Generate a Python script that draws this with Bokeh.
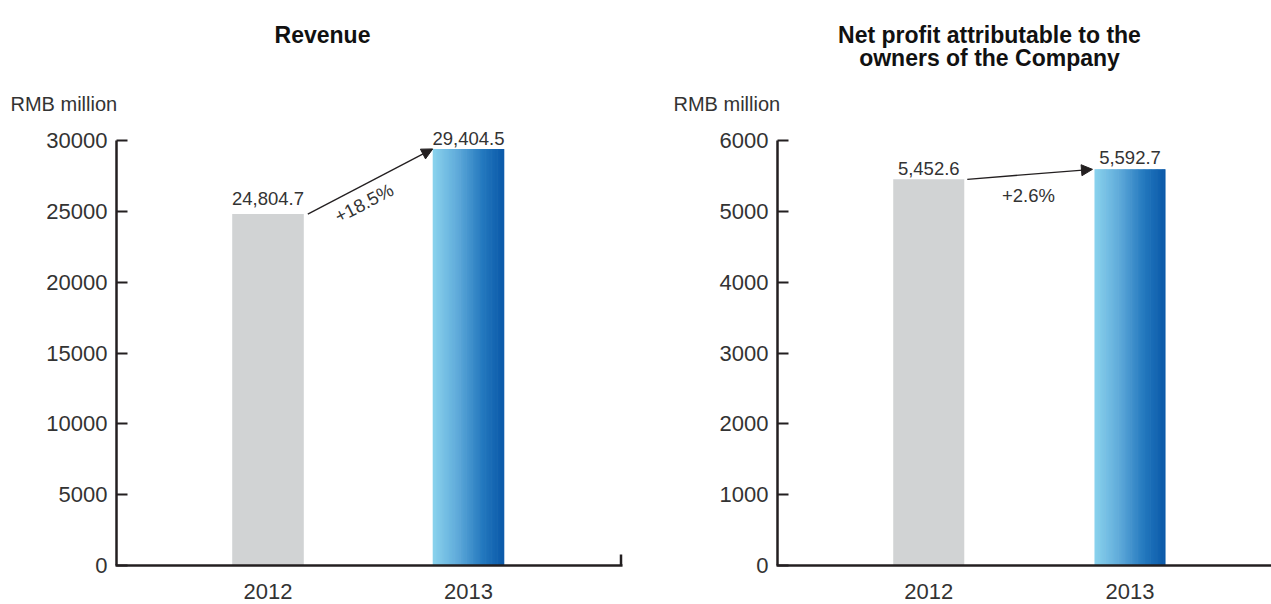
from bokeh.plotting import figure
from bokeh.layouts import row
from bokeh.models import Range1d, FixedTicker, Label, Arrow, NormalHead, ColumnDataSource
from bokeh.embed import file_html
from bokeh.resources import INLINE

# ---------------- data ----------------
years = ["2012", "2013"]

revenue = [24804.7, 29404.5]
revenue_labels = ["24,804.7", "29,404.5"]
revenue_growth = "+18.5%"
revenue_ticks = [0, 5000, 10000, 15000, 20000, 25000, 30000]

profit = [5452.6, 5592.7]
profit_labels = ["5,452.6", "5,592.7"]
profit_growth = "+2.6%"
profit_ticks = [0, 1000, 2000, 3000, 4000, 5000, 6000]

unit_label = "RMB million"
revenue_title = ["Revenue"]
profit_title = ["Net profit attributable to the", "owners of the Company"]

# ---------------- style ----------------
FONT = "Liberation Sans"
TXT = "#333333"
AX = "#231F20"
GRAY = "#D1D3D4"
STOPS = [(0.0, (138, 211, 237)), (0.35, (95, 170, 218)),
         (0.7, (35, 120, 190)), (1.0, (10, 88, 168))]
H = 604
B = 565.0      # pixel row of the zero line
SPAN = 425.0   # pixels from 0 to the top tick


def grad(t):
    for (t0, c0), (t1, c1) in zip(STOPS[:-1], STOPS[1:]):
        if t0 <= t <= t1:
            f = (t - t0) / (t1 - t0)
            c = [round(a + (b - a) * f) for a, b in zip(c0, c1)]
            return "#%02x%02x%02x" % tuple(c)
    return "#%02x%02x%02x" % STOPS[-1][1]


def panel(values, labels, growth, ticks, title_lines, cx0, cx1, c0, unit,
          axis_l, axis_r, bw, label_off, growth_px, growth_angle, arrow_px,
          unit_px, title_cx, end_tick):
    """cx0/cx1: canvas extent in page pixels; c0: centre of first bar (px);
    unit: px between the two bars; axis_l/axis_r: x extent of the axes (px)."""
    ymax = ticks[-1]
    width = cx1 - cx0

    def px2x(px):
        return (px - c0) / unit

    def dx(px):
        return px / unit

    def px2y(py):
        return (B - py) / SPAN * ymax

    def dy(px):
        return px / SPAN * ymax

    p = figure(width=width, height=H,
               x_range=Range1d(px2x(cx0), px2x(cx1)),
               y_range=Range1d(px2y(H), px2y(0)), output_backend="svg",
               toolbar_location=None, min_border_left=0, min_border_right=0,
               min_border_top=0, min_border_bottom=0)
    p.outline_line_color = None
    p.grid.visible = False
    p.background_fill_color = "white"
    p.border_fill_color = "white"

    # y axis, drawn at a fixed position inside the frame
    ya = p.yaxis[0]
    ya.fixed_location = px2x(axis_l)
    ya.bounds = (0, ymax)
    ya.ticker = FixedTicker(ticks=ticks)
    ya.major_label_overrides = {t: str(t) for t in ticks}
    ya.axis_line_width = 2.5
    ya.axis_line_color = AX
    ya.major_tick_in = 11
    ya.major_tick_out = 0
    ya.major_tick_line_width = 2
    ya.major_tick_line_color = AX
    ya.minor_tick_line_color = None
    ya.major_label_standoff = 9
    ya.major_label_text_font = FONT
    ya.major_label_text_font_size = "22px"
    ya.major_label_text_color = TXT

    # x axis along the zero line
    xa = p.xaxis[0]
    xpos = list(range(len(years)))
    xa.fixed_location = 0
    xa.bounds = (px2x(axis_l - 1), px2x(axis_r))
    xa.ticker = FixedTicker(ticks=xpos)
    xa.major_label_overrides = {i: y for i, y in zip(xpos, years)}
    xa.axis_line_width = 2.7
    xa.axis_line_color = AX
    xa.major_tick_in = 0
    xa.major_tick_out = 0
    xa.minor_tick_line_color = None
    xa.major_label_standoff = 18
    xa.major_label_text_font = FONT
    xa.major_label_text_font_size = "22px"
    xa.major_label_text_color = TXT

    # 2012 bar (gray)
    src = ColumnDataSource(dict(x=[xpos[0]], top=[values[0]]))
    p.vbar(x="x", top="top", width=bw, bottom=0, source=src,
           fill_color=GRAY, line_color=None, level="underlay")

    # 2013 bar (horizontal gradient built from thin slices)
    n = 60
    step = bw / n
    x0 = xpos[1] - bw / 2
    lefts = [x0 + i * step for i in range(n)]
    rights = [x0 + (i + 1) * step + (step * 0.6 if i < n - 1 else 0) for i in range(n)]
    cols = [grad((i + 0.5) / n) for i in range(n)]
    gsrc = ColumnDataSource(dict(left=lefts, right=rights,
                                 top=[values[1]] * n, bottom=[0] * n, c=cols))
    p.quad(left="left", right="right", top="top", bottom="bottom",
           fill_color="c", line_color=None, source=gsrc, level="underlay")

    # value labels
    for i, (v, lab) in enumerate(zip(values, labels)):
        p.add_layout(Label(x=xpos[i], y=v + dy(label_off[i]), text=lab,
                           text_align="center", text_baseline="alphabetic",
                           text_font=FONT, text_font_size="18.5px",
                           text_color=TXT))

    # growth arrow
    sx_off, ex_off = arrow_px
    p.add_layout(Arrow(x_start=xpos[0] + bw / 2 + dx(sx_off), y_start=values[0],
                       x_end=xpos[1] - bw / 2 + dx(ex_off), y_end=values[1],
                       line_color=AX, line_width=1.3,
                       end=NormalHead(size=11, fill_color=AX, line_color=AX,
                                      line_width=1)))
    p.add_layout(Label(x=px2x(growth_px[0]), y=px2y(growth_px[1]), text=growth,
                       angle=growth_angle, text_align="center",
                       text_baseline="middle", text_font=FONT,
                       text_font_size="18.5px", text_color=TXT))

    # unit label
    p.add_layout(Label(x=px2x(unit_px[0]), y=px2y(unit_px[1]), text=unit_label,
                       text_align="left", text_baseline="alphabetic",
                       text_font=FONT, text_font_size="20px", text_color=TXT))

    # title lines
    for k, line in enumerate(title_lines):
        p.add_layout(Label(x=px2x(title_cx), y=px2y(34 + 23 * k), text=line,
                           text_align="center", text_baseline="alphabetic",
                           text_font=FONT, text_font_style="bold",
                           text_font_size="23px", text_color="#111111"))

    # small closing tick at the end of the x axis
    if end_tick:
        xt = px2x(axis_r - 1.5)
        p.add_layout(Arrow(x_start=xt, y_start=0, x_end=xt, y_end=dy(11),
                           end=None, line_color=AX, line_width=2.5))
    return p


p1 = panel(revenue, revenue_labels, revenue_growth, revenue_ticks, revenue_title,
           cx0=0, cx1=640, c0=267.5, unit=200.5, axis_l=116, axis_r=622,
           bw=0.357, label_off=[16, 10], growth_px=(363.5, 202.5),
           growth_angle=0.48, arrow_px=(4, 0), unit_px=(10, 103),
           title_cx=322, end_tick=True)

p2 = panel(profit, profit_labels, profit_growth, profit_ticks, profit_title,
           cx0=640, cx1=1271, c0=928.25, unit=201.25, axis_l=777, axis_r=1271,
           bw=0.353, label_off=[11, 12], growth_px=(1028, 195),
           growth_angle=0.0, arrow_px=(3, -2), unit_px=(673, 103),
           title_cx=989, end_tick=False)

layout = row(p1, p2)
open("out.html", "w").write(file_html(layout, INLINE))
